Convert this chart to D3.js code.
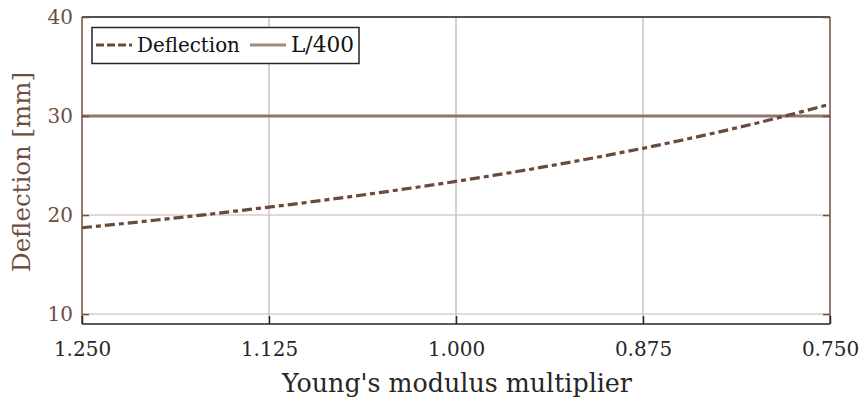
<!DOCTYPE html>
<html><head><meta charset="utf-8">
<script src="https://cdn.jsdelivr.net/npm/d3@7"></script>
<style>body{margin:0;background:#fff}svg{display:block}</style>
</head><body>
<svg id="c" width="863" height="405"></svg>
<script>
const multipliers = [1.250,1.225,1.200,1.175,1.150,1.125,1.100,1.075,1.050,1.025,1.000,0.975,0.950,0.925,0.900,0.875,0.850,0.825,0.800,0.775,0.750];
const deflection  = [18.72,19.10,19.50,19.91,20.35,20.80,21.27,21.77,22.29,22.83,23.40,24.00,24.63,25.30,26.00,26.74,27.53,28.36,29.25,30.19,31.20];
const limitL400 = 30;
const xTicks = [1.250,1.125,1.000,0.875,0.750];
const xTickLabels = ["1.250","1.125","1.000","0.875","0.750"];
const yTicks = [10,20,30,40];
const legendLabels = ["Deflection","L/400"];

const svg = d3.select("#c");
const L=82, R=830, T=17, B=324;
const x = d3.scaleLinear().domain([1.25,0.75]).range([L,R]);
const y = d3.scaleLinear().domain([9,40]).range([B,T]);
const brown="#6e4e40", dark="#262626", font="'DejaVu Serif','Liberation Serif',serif";
const dash = "10,4,5,4";

function fit(sel, w, base){
  sel.style("font-size", base+"px");
  const cur = sel.node().getComputedTextLength();
  sel.style("font-size", (base*w/cur).toFixed(2)+"px");
}

// grids
svg.append("g").selectAll("line").data(yTicks).join("line")
  .attr("x1",L).attr("x2",R).attr("y1",d=>y(d)).attr("y2",d=>y(d))
  .attr("stroke","#d8ccc7").attr("stroke-width",1.5);
svg.append("g").selectAll("line").data(xTicks.slice(1,-1)).join("line")
  .attr("x1",d=>x(d)).attr("x2",d=>x(d)).attr("y1",T).attr("y2",B)
  .attr("stroke","#c4c4c4").attr("stroke-width",1.5);

// L/400
svg.append("line").attr("x1",L).attr("x2",R).attr("y1",y(limitL400)).attr("y2",y(limitL400))
  .attr("stroke","#8f766c").attr("stroke-width",3);

// deflection
const line = d3.line().x((d,i)=>x(multipliers[i])).y(d=>y(d));
svg.append("path").datum(deflection).attr("d",line).attr("fill","none")
  .attr("stroke","#6b4a3c").attr("stroke-width",3.2).attr("stroke-dasharray",dash);

// box
svg.append("line").attr("x1",L).attr("x2",R).attr("y1",T).attr("y2",T).attr("stroke",dark).attr("stroke-width",1.5);
svg.append("line").attr("x1",L).attr("x2",R).attr("y1",B).attr("y2",B).attr("stroke",dark).attr("stroke-width",1.5);
svg.append("line").attr("x1",L).attr("x2",L).attr("y1",T).attr("y2",B).attr("stroke",brown).attr("stroke-width",1.5);
svg.append("line").attr("x1",R).attr("x2",R).attr("y1",T).attr("y2",B).attr("stroke",brown).attr("stroke-width",1.5);

// axes
const xAxis = d3.axisBottom(x).tickValues(xTicks).tickFormat((d,i)=>xTickLabels[i]).tickSizeInner(-8).tickSizeOuter(0).tickPadding(18);
const gx = svg.append("g").attr("transform",`translate(0,${B})`).call(xAxis);
gx.select(".domain").remove();
gx.selectAll("line").attr("stroke",dark).attr("stroke-width",1.5);
gx.selectAll("text").attr("fill",dark).style("font-family",font).style("font-size","20px");

const yAxis = d3.axisLeft(y).tickValues(yTicks).tickSizeInner(-7).tickSizeOuter(0).tickPadding(9);
const gy = svg.append("g").attr("transform",`translate(${L},0)`).call(yAxis);
gy.select(".domain").remove();
gy.selectAll("line").attr("stroke",brown).attr("stroke-width",1.5);
gy.selectAll("text").attr("fill",brown).style("font-family",font).style("font-size","20px");

const yAxisR = d3.axisRight(y).tickValues(yTicks).tickSizeInner(-7).tickSizeOuter(0).tickFormat("");
const gyr = svg.append("g").attr("transform",`translate(${R},0)`).call(yAxisR);
gyr.select(".domain").remove();
gyr.selectAll("line").attr("stroke",brown).attr("stroke-width",1.5);

// labels
const xl = svg.append("text").attr("x",457).attr("y",392).attr("text-anchor","middle")
  .style("font-family",font).attr("fill",dark).text("Young's modulus multiplier");
fit(xl, 350, 22);
const yl = svg.append("text").attr("transform",`translate(30,172) rotate(-90)`).attr("text-anchor","middle")
  .style("font-family",font).attr("fill",brown).text("Deflection [mm]");
fit(yl, 200, 22);

// legend
const lg = svg.append("g");
lg.append("rect").attr("x",92).attr("y",27.5).attr("width",267).attr("height",36)
  .attr("fill","#fff").attr("stroke",dark).attr("stroke-width",1.5);
lg.append("line").attr("x1",96).attr("x2",132).attr("y1",45).attr("y2",45)
  .attr("stroke","#6b4a3c").attr("stroke-width",3.2).attr("stroke-dasharray","8,3,8,3");
const t1 = lg.append("text").attr("x",137).attr("y",52).style("font-family",font).attr("fill","#111").text(legendLabels[0]);
fit(t1, 103, 18);
lg.append("line").attr("x1",250).attr("x2",286).attr("y1",45).attr("y2",45)
  .attr("stroke","#a08a81").attr("stroke-width",3);
const t2 = lg.append("text").attr("x",291).attr("y",52).style("font-family",font).attr("fill","#111").text(legendLabels[1]);
fit(t2, 63, 18);
</script>
</body></html>
